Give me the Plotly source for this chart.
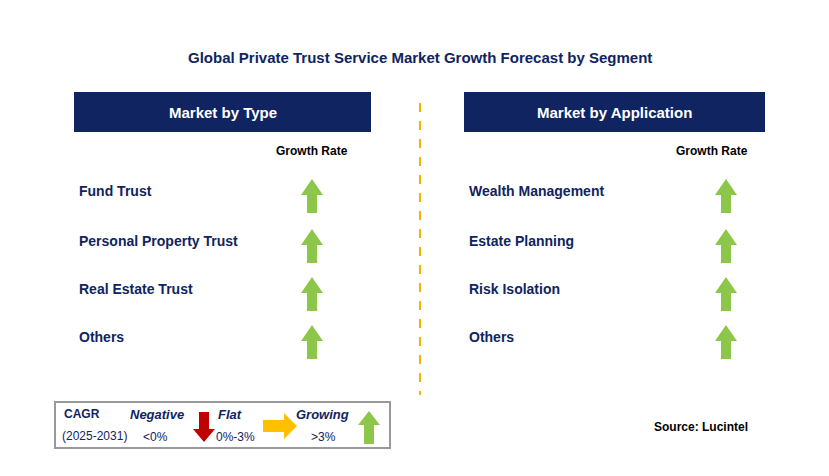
import plotly.graph_objects as go

title = "Global Private Trust Service Market Growth Forecast by Segment"
type_header = "Market by Type"
app_header = "Market by Application"
type_items = ["Fund Trust", "Personal Property Trust", "Real Estate Trust", "Others"]
app_items = ["Wealth Management", "Estate Planning", "Risk Isolation", "Others"]
type_trend = ["up", "up", "up", "up"]
app_trend = ["up", "up", "up", "up"]

NAVY = "#0f2460"
GREEN = "#8cc64a"
fig = go.Figure()
shapes = []
ann = []

def up_arrow(cx, top, bot, color=GREEN, hw=11, sw=5, hh=16):
    p = (f"M{cx},{top} L{cx+hw},{top+hh} L{cx+sw},{top+hh} L{cx+sw},{bot} "
         f"L{cx-sw},{bot} L{cx-sw},{top+hh} L{cx-hw},{top+hh} Z")
    return dict(type="path", path=p, fillcolor=color, line=dict(width=0), layer="above")

def text(x, y, s, size=14, color=NAVY, bold=True, xanchor="left", italic=False):
    if bold: s = f"<b>{s}</b>"
    if italic: s = f"<i>{s}</i>"
    ann.append(dict(x=x, y=y, text=s, showarrow=False, xanchor=xanchor, yanchor="middle",
                    font=dict(size=size, color=color, family="Arial, Liberation Sans")))

text(420, 57, title, size=15, xanchor="center")
for x0, x1, h in [(74, 371, type_header), (464, 765, app_header)]:
    shapes.append(dict(type="rect", x0=x0, x1=x1, y0=92, y1=132, fillcolor=NAVY, line=dict(width=0)))
    text((x0 + x1) / 2, 112, h, size=15, color="white", xanchor="center")
text(312, 151, "Growth Rate", size=12, color="black", xanchor="center")
text(712, 151, "Growth Rate", size=12, color="black", xanchor="center")
rows = [191, 241, 289, 337]
for i, (a, b) in enumerate(zip(type_items, app_items)):
    y = rows[i]
    text(77, y, a, size=14)
    text(467, y, b, size=14)
    if type_trend[i] == "up":
        shapes.append(up_arrow(312, y - 12, y + 22))
    if app_trend[i] == "up":
        shapes.append(up_arrow(726, y - 12, y + 22))
shapes.append(dict(type="line", x0=420, x1=420, y0=103, y1=395, line=dict(color="#f5b400", width=2, dash="dash")))

# legend box
shapes.append(dict(type="rect", x0=55, x1=390, y0=402, y1=448, line=dict(color="#999999", width=2), fillcolor="white"))
text(62, 414, "CAGR", size=12)
text(60, 436, "(2025-2031)", size=12, bold=False)
text(157, 414, "Negative", size=13, italic=True, xanchor="center")
text(155, 437, "&lt;0%", size=12, bold=False, xanchor="center")
text(230, 414, "Flat", size=13, italic=True, xanchor="center")
text(235, 437, "0%-3%", size=12, bold=False, xanchor="center")
text(322, 414, "Growing", size=13, italic=True, xanchor="center")
text(323, 437, "&gt;3%", size=12, bold=False, xanchor="center")
shapes.append(dict(type="path", path="M204,442 L193,429 L199,429 L199,412 L209,412 L209,429 L215,429 Z",
                   fillcolor="#c00000", line=dict(width=0)))
shapes.append(dict(type="path", path="M297,426 L284,413 L284,420 L263,420 L263,432 L284,432 L284,439 Z",
                   fillcolor="#ffc000", line=dict(width=0)))
shapes.append(up_arrow(369, 411, 444, hw=11, sw=5, hh=14))
text(750, 427, "Source: Lucintel", size=12, color="black", xanchor="right")

fig.update_layout(width=829, height=476, margin=dict(l=0, r=0, t=0, b=0),
                  plot_bgcolor="white", paper_bgcolor="white", shapes=shapes, annotations=ann,
                  xaxis=dict(range=[8, 837], visible=False, fixedrange=True),
                  yaxis=dict(range=[484, 8], visible=False, fixedrange=True), showlegend=False)
fig.write_html("out.html")
